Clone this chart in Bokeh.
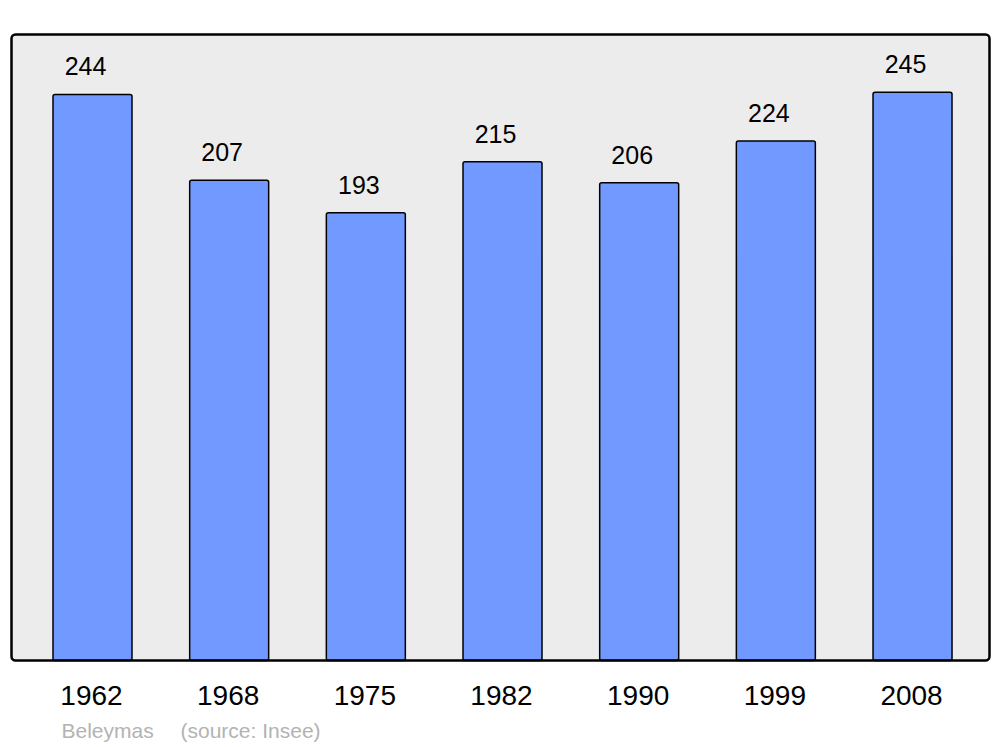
from bokeh.plotting import figure
from bokeh.models import Range1d, Label, ColumnDataSource
from bokeh.core.properties import value
from bokeh.embed import file_html
from bokeh.resources import INLINE

years = ["1962", "1968", "1975", "1982", "1990", "1999", "2008"]
population = [244, 207, 193, 215, 206, 224, 245]
commune = "Beleymas"
source_note = "(source: Insee)"

x = list(range(len(years)))
src = ColumnDataSource(dict(x=x, pop=population, label=[str(v) for v in population],
                            year=years, base=[0] * len(x)))

# layout (pixels): panel 11..989 x 34..660 inside the canvas
W, H = 992, 745
PX_PER_CAT = 136.67
CX0 = 92.0
PX_PER_UNIT = 2.3197
Y0_PX = 660.0
xr = Range1d((0 - CX0) / PX_PER_CAT, (W - CX0) / PX_PER_CAT)
yr = Range1d(-(H - Y0_PX) / PX_PER_UNIT, Y0_PX / PX_PER_UNIT)
box_l, box_r = (11 - CX0) / PX_PER_CAT, (989 - CX0) / PX_PER_CAT
box_t = (Y0_PX - 34) / PX_PER_UNIT

p = figure(width=W, height=H, output_backend="svg", toolbar_location=None,
           x_range=xr, y_range=yr, x_axis_location=None, y_axis_location=None,
           min_border=0)
p.background_fill_color = "white"
p.border_fill_color = "white"
p.outline_line_color = None
p.grid.visible = False

# panel background
p.quad(left=box_l, right=box_r, bottom=0, top=box_t, fill_color="#ececec",
       line_color=None, border_radius=4)

p.vbar(x="x", top="pop", bottom="base", width=0.578, source=src,
       fill_color="#7299ff", line_color="black", line_width=1.5, border_radius=2)

# panel outline on top
p.quad(left=box_l, right=box_r, bottom=0, top=box_t, fill_color=None,
       line_color="black", line_width=2.5, border_radius=4)

p.text(x="x", y="pop", text="label", source=src, text_align="center",
       text_baseline="alphabetic", x_offset=-7, y_offset=-28,
       text_font=value("Liberation Sans"), text_font_size="25px", text_color="black")

p.text(x="x", y="base", text="year", source=src, text_align="center",
       text_baseline="middle", x_offset=-1, y_offset=35,
       text_font=value("Liberation Sans"), text_font_size="28px", text_color="black")

for txt, sx in [(commune, 61), (source_note, 180)]:
    p.add_layout(Label(x=sx, y=H - 730, x_units="screen", y_units="screen", text=txt,
                       text_font="Liberation Sans", text_font_size="21px",
                       text_color="#b3b3b3", text_baseline="middle", text_align="left"))

open("out.html", "w").write(file_html(p, INLINE))
